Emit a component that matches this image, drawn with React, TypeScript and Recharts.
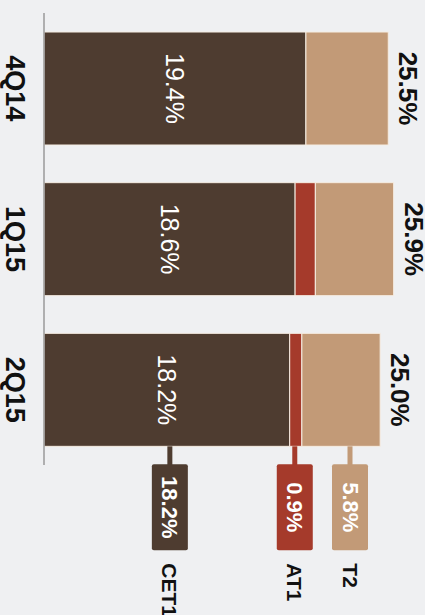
import React from 'react';
import { BarChart, Bar, XAxis, YAxis } from 'recharts';

const categories = ['4Q14', '1Q15', '2Q15'];
const cet1 = [19.4, 18.6, 18.2];
const at1 = [0, 1.5, 0.9];
const t2 = [6.1, 5.8, 5.8];
const totals = [25.5, 25.9, 25.0];
const seriesNames = ['CET1', 'AT1', 'T2'];

const COLORS: Record<string, string> = {
  CET1: '#4e3c30',
  AT1: '#a53a2b',
  T2: '#c29a77',
};
const LEGEND_OFFSET: Record<string, number> = { CET1: 3, AT1: -1, T2: 9 };
const FONT = '"Liberation Sans", Arial, sans-serif';

const data = categories.map((name, i) => ({
  name,
  CET1: cet1[i],
  AT1: at1[i],
  T2: t2[i],
  total: totals[i],
}));

const fmt = (v: number) => `${v.toFixed(1)}%`;

const RText = ({ cx, cy, anchor = 'middle', children, ...rest }: any) => (
  <text
    x={cx}
    y={cy}
    transform={`rotate(90 ${cx} ${cy})`}
    textAnchor={anchor}
    dominantBaseline="central"
    fontFamily={FONT}
    {...rest}
  >
    {children}
  </text>
);

const makeShape = (key: string) => (props: any) => {
  const { x, y, width, height, index } = props;
  const fill = COLORS[key];
  const last = index === categories.length - 1;
  const parts: any[] = [];
  if (width > 0) {
    parts.push(
      <rect key="r" x={x} y={y} width={width} height={height} fill={fill} stroke="#f6ede3" strokeWidth={1} />
    );
  }
  if (key === 'CET1') {
    parts.push(
      <RText key="in" cx={x + width / 2} cy={y + height / 2} fill="#ffffff" fontSize={25}>
        {fmt(cet1[index])}
      </RText>
    );
  }
  if (key === 'T2') {
    parts.push(
      <RText key="tot" cx={x + width + 20} cy={y + height / 2} fill="#111" fontSize={26} fontWeight="bold">
        {fmt(totals[index])}
      </RText>
    );
  }
  if (last) {
    const vals: Record<string, number[]> = { CET1: cet1, AT1: at1, T2: t2 };
    const cx = x + width / 2 + LEGEND_OFFSET[key];
    const bottom = y + height;
    const stem = 18;
    const bw = 36;
    const bh = 86;
    const by = bottom + stem;
    parts.push(
      <g key="leg">
        <rect x={cx - 2.5} y={bottom} width={5} height={stem + 1} fill={fill} />
        <rect x={cx - bw / 2} y={by} width={bw} height={bh} rx={2} fill={fill} />
        <RText cx={cx} cy={by + bh / 2} fill="#ffffff" fontSize={22} fontWeight="bold">
          {fmt(vals[key][index])}
        </RText>
        <RText cx={cx} cy={by + bh + 13} anchor="start" fill="#111" fontSize={21} fontWeight="bold">
          {key}
        </RText>
      </g>
    );
  }
  return <g>{parts}</g>;
};

const CatTick = (props: any) => {
  const { y, payload } = props;
  return (
    <RText cx={15} cy={y} fill="#111" fontSize={27} fontWeight="bold">
      {payload.value}
    </RText>
  );
};

export default function App() {
  return (
    <div
      style={{
        position: 'absolute',
        left: 0,
        top: 0,
        width: 425,
        height: 615,
        background: '#eff0f2',
        overflow: 'hidden',
      }}
    >
      <BarChart
        width={425}
        height={615}
        data={data}
        layout="vertical"
        margin={{ top: 13, right: 3, bottom: 150, left: 0 }}
        barSize={113}
      >
        <XAxis type="number" hide domain={[0, 28]} />
        <YAxis
          type="category"
          dataKey="name"
          width={44}
          axisLine={{ stroke: '#9a9a9a', strokeWidth: 1.5 }}
          tickLine={false}
          tick={<CatTick />}
        />
        {seriesNames.map((key) => (
          <Bar
            key={key}
            dataKey={key}
            stackId="a"
            fill={COLORS[key]}
            isAnimationActive={false}
            shape={makeShape(key)}
          />
        ))}
      </BarChart>
    </div>
  );
}
